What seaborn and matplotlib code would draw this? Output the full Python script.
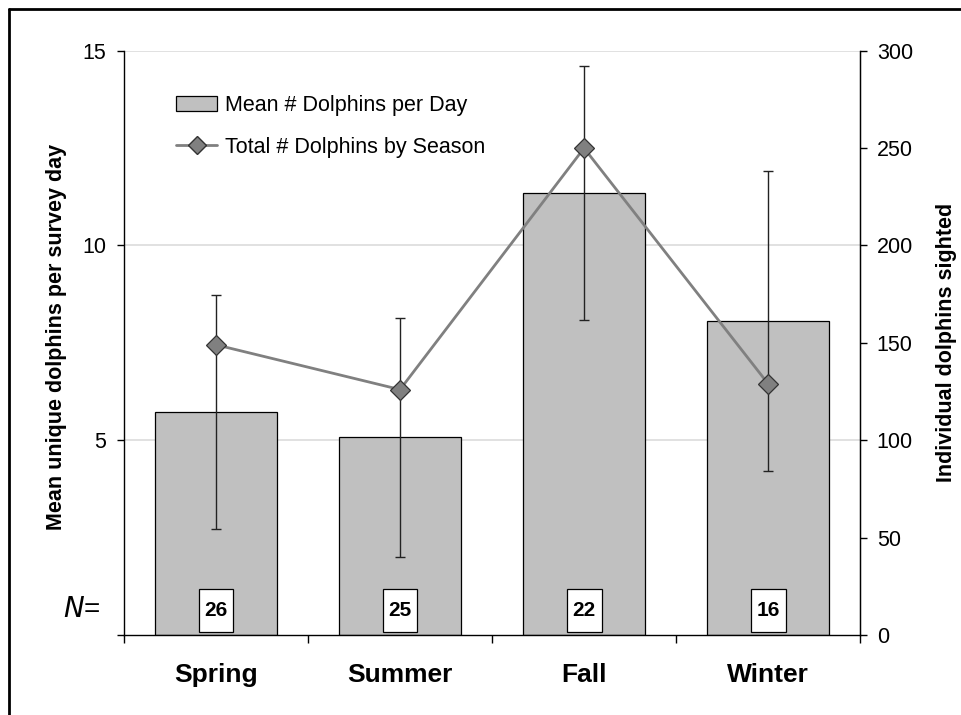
"""Seasonal dolphin sightings: mean per survey day (bars) and totals (line)."""
import numpy as np
import pandas as pd
import matplotlib
matplotlib.use("Agg")
import matplotlib.pyplot as plt
from matplotlib.patches import Patch, Rectangle
from matplotlib.lines import Line2D
import seaborn as sns

seasons = ["Spring", "Summer", "Fall", "Winter"]
mean_per_day = [5.72, 5.07, 11.35, 8.05]
sd_per_day = [3.01, 3.08, 3.27, 3.85]
total_by_season = [149, 126, 250, 129]
n_days = [26, 25, 22, 16]

sns.set_style("white")
plt.rcParams["font.family"] = ["Liberation Sans", "DejaVu Sans"]
plt.rcParams["text.color"] = "black"
plt.rcParams["axes.labelcolor"] = "black"
plt.rcParams["xtick.color"] = "black"
plt.rcParams["ytick.color"] = "black"

df = pd.DataFrame({"season": seasons, "mean": mean_per_day,
                   "sd": sd_per_day, "total": total_by_season})

fig = plt.figure(figsize=(9.61, 7.15), dpi=100)
ax = fig.add_axes([0.129, 0.112, 0.766, 0.817])

# Bars
sns.barplot(data=df, x="season", y="mean", color="#c0c0c0", width=0.66,
            edgecolor="black", linewidth=0.9, saturation=1, ax=ax, zorder=2)
xpos = np.arange(len(seasons))
ax.errorbar(xpos, df["mean"], yerr=df["sd"], fmt="none", ecolor="#222222",
            elinewidth=1.0, capsize=3.5, capthick=1.0, zorder=3)

ax.set_ylim(0, 15)
ax.set_xlim(-0.5, 3.5)
ax.set_yticks([0, 5, 10, 15])
ax.set_yticklabels(["", "5", "10", "15"])
for v in [5, 10, 15]:
    ax.axhline(v, color="#dcdcdc", lw=1.2, zorder=0)
ax.tick_params(axis="y", direction="out", length=5, width=1, labelsize=15.5,
               left=True, pad=8)
ax.set_xticks(xpos)
ax.set_xticklabels(seasons, fontsize=19, fontweight="bold")
ax.tick_params(axis="x", length=0, pad=20)
ax.set_xticks(np.arange(-0.5, 4, 1), minor=True)
ax.tick_params(axis="x", which="minor", direction="out", length=6, width=1,
               bottom=True)
ax.set_xlabel("")
ax.set_ylabel("Mean unique dolphins per survey day", fontsize=15.5,
              fontweight="bold")
ax.yaxis.set_label_coords(-0.077, 0.51)
for s in ["left", "bottom", "right"]:
    ax.spines[s].set_color("black")
    ax.spines[s].set_linewidth(1)
ax.spines["top"].set_visible(False)

# N= boxes
trans = ax.get_xaxis_transform()
for x, n in zip(xpos, n_days):
    ax.add_patch(Rectangle((x - 0.095, 0.005), 0.19, 0.074, transform=trans,
                           facecolor="white", edgecolor="black", lw=0.9,
                           zorder=5))
    ax.text(x, 0.042, str(n), transform=trans, ha="center", va="center",
            fontsize=15, fontweight="bold", zorder=6)
ax.text(-0.032, 0.043, "$\\mathit{N}$=", transform=ax.transAxes, ha="right",
        va="center", fontsize=20)

# Totals on right axis
ax2 = ax.twinx()
sns.pointplot(data=df, x="season", y="total", color="#808080", markers="D",
              linestyles="-", ax=ax2, markersize=10, markeredgecolor="#333333",
              markeredgewidth=0.9, linewidth=2, zorder=4)
ax2.set_ylim(0, 300)
ax2.set_xlim(-0.5, 3.5)
ax2.set_yticks(np.arange(0, 301, 50))
ax2.tick_params(axis="y", direction="out", length=5, width=1, labelsize=15.5,
                right=True, pad=7)
ax2.set_ylabel("Individual dolphins sighted", fontsize=15.5, fontweight="bold")
ax2.yaxis.set_label_coords(1.103, 0.5)
ax2.set_xlabel("")
for s in ["top", "left", "bottom"]:
    ax2.spines[s].set_visible(False)
ax2.spines["right"].set_color("black")

handles = [Patch(facecolor="#c0c0c0", edgecolor="black", lw=0.9),
           Line2D([], [], color="#808080", lw=2, marker="D", markersize=9,
                  markerfacecolor="#808080", markeredgecolor="#333333")]
ax2.legend(handles, ["Mean # Dolphins per Day", "Total # Dolphins by Season"],
           loc="upper left", bbox_to_anchor=(0.045, 0.957), frameon=False,
           fontsize=15.5, handlelength=1.9, labelspacing=0.95,
           handletextpad=0.35)

# Outer frame (top and left visible)
fig.add_artist(Line2D([0.0095, 1.0], [0.987, 0.987], transform=fig.transFigure,
                      color="black", lw=2))
fig.add_artist(Line2D([0.0095, 0.0095], [0.0, 0.987], transform=fig.transFigure,
                      color="black", lw=2))

fig.savefig("out.png", dpi=100)
